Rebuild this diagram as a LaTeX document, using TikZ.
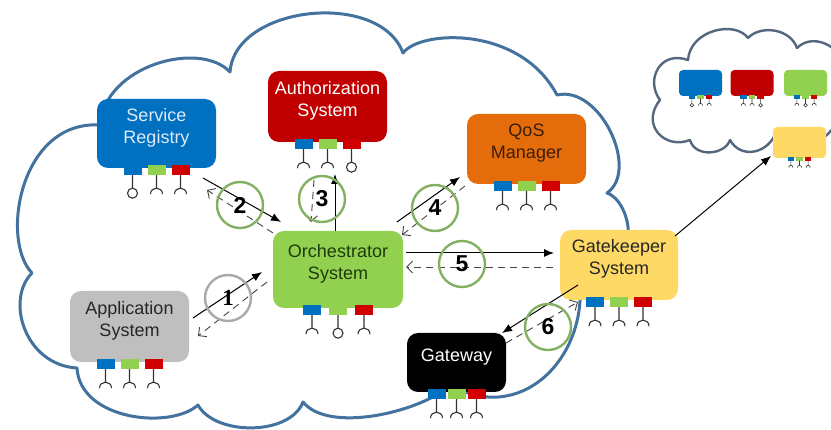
\documentclass[tikz,border=0pt]{standalone}
\usepackage{fontspec}
\setmainfont{Liberation Sans}
\newfontfamily\numserif{Liberation Serif}
\usetikzlibrary{arrows.meta}
\definecolor{cloudblue}{HTML}{44729E}
\definecolor{cloudgray}{HTML}{54677E}
\definecolor{srblue}{HTML}{0070C0}
\definecolor{authred}{HTML}{C00000}
\definecolor{qosorange}{HTML}{E46C0A}
\definecolor{orchgreen}{HTML}{92D050}
\definecolor{appgray}{HTML}{BFBFBF}
\definecolor{gkyellow}{HTML}{FFD966}
\definecolor{pblue}{HTML}{0070C0}
\definecolor{pgreen}{HTML}{92D050}
\definecolor{pred}{HTML}{D00000}
\definecolor{ringgreen}{HTML}{84B062}
\definecolor{ringgray}{HTML}{A9A9A9}
\definecolor{stemgray}{HTML}{333333}
\definecolor{srtext}{HTML}{DDEBF7}
\definecolor{qostext}{HTML}{3B1E08}
\definecolor{orchtext}{HTML}{1E3B0C}
\definecolor{darktext}{HTML}{262626}
\definecolor{dashgray}{HTML}{444444}

\tikzset{
  sysbox/.style={rounded corners=11pt, inner sep=0pt, draw=none},
  minibox/.style={rounded corners=4pt, inner sep=0pt, draw=none},
  boxtext/.style={align=center, inner sep=0pt, font=\fontsize{18}{22}\selectfont},
  portstem/.style={draw=stemgray, line width=1.1pt},
  cloudline/.style={draw=cloudblue, line width=3pt, line join=round},
  smallcloud/.style={draw=cloudgray, line width=2.4pt, line join=round},
  ring/.style={circle, draw=ringgreen, line width=2.4pt, minimum size=46pt, inner sep=0pt,
    font=\bfseries\fontsize{23}{23}\selectfont},
  flow/.style={draw=black, line width=1pt, -{Latex[length=10pt,width=8pt]}},
  reply/.style={draw=dashgray, line width=0.9pt, dash pattern=on 7pt off 5pt,
    -{Straight Barb[length=6pt,width=12pt]}},
}

% interface symbols below a port (x position given)
\newcommand\plugsym[1]{\draw[portstem] (#1,7) -- (#1,20) (#1,25) circle[radius=5];}
\newcommand\socksym[1]{\draw[portstem] (#1,7) -- (#1,20)
  (#1-6,26) .. controls (#1-6,18) and (#1+6,18) .. (#1+6,26);}

% ports row under a box: [scope options]{node}{spacing}{type1}{type2}{type3}
\newcommand\ports[6][]{%
  \begin{scope}[shift={(#2.south)},#1]
    \fill[pblue]  (-#3-9,-3) rectangle (-#3+9,7);
    \fill[pgreen] (-9,-3) rectangle (9,7);
    \fill[pred]   (#3-9,-3) rectangle (#3+9,7);
    \csname #4sym\endcsname{-#3}
    \csname #5sym\endcsname{0}
    \csname #6sym\endcsname{#3}
  \end{scope}}

\begin{document}
\begin{tikzpicture}[x=1pt,y=-1pt]
\useasboundingbox (0,0) rectangle (831,430);
\clip (0,0) rectangle (831,430);
\fill[white] (0,0) rectangle (831,430);

% big cloud
\draw[cloudline] (32,273)
  .. controls (0,240) and (20,120) .. (100,125)
  .. controls (105,65) and (200,40) .. (230,72)
  .. controls (235,5) and (380,-10) .. (403,53)
  .. controls (420,30) and (520,25) .. (557,95)
  .. controls (600,85) and (640,170) .. (607,193)
  .. controls (630,200) and (650,270) .. (580,285)
  .. controls (585,360) and (520,425) .. (450,385)
  .. controls (425,410) and (330,435) .. (303,402)
  .. controls (290,436) and (215,436) .. (198,405)
  .. controls (170,430) and (80,420) .. (77,368)
  .. controls (25,365) and (5,300) .. (32,273) -- cycle;

% remote cloud
\draw[smallcloud] (660,100)
  .. controls (645,80) and (660,50) .. (688,60)
  .. controls (690,30) and (735,20) .. (748,38)
  .. controls (760,25) and (790,28) .. (797,48)
  .. controls (815,30) and (850,50) .. (845,80)
  .. controls (870,100) and (860,125) .. (835,125)
  .. controls (820,150) and (790,150) .. (775,135)
  .. controls (765,155) and (740,158) .. (730,140)
  .. controls (725,155) and (695,158) .. (690,140)
  .. controls (665,150) and (640,125) .. (660,100) -- cycle;

% systems
\node[sysbox, fill=srblue, minimum width=119pt, minimum height=69pt] (sr) at (156.5,133.5) {};
\node[boxtext, text=srtext] (srt) at ([yshift=6pt]sr.center) {Service\\Registry};
\ports{sr}{24}{plug}{sock}{sock}

\node[sysbox, fill=authred, minimum width=119pt, minimum height=71pt] (auth) at (327.5,106.5) {};
\node[boxtext, text=white] (autht) at ([yshift=6pt]auth.center) {Authorization\\System};
\ports{auth}{24}{sock}{sock}{plug}

\node[sysbox, fill=qosorange, minimum width=119pt, minimum height=70pt] (qos) at (526.5,149) {};
\node[boxtext, text=qostext] (qost) at ([yshift=6pt]qos.center) {QoS\\Manager};
\ports{qos}{24}{sock}{sock}{sock}

\node[sysbox, fill=orchgreen, minimum width=130pt, minimum height=77pt] (orch) at (338,269.5) {};
\node[boxtext, text=orchtext] (orcht) at ([yshift=6pt]orch.center) {Orchestrator\\System};
\ports{orch}{26}{sock}{plug}{sock}

\node[sysbox, fill=appgray, minimum width=119pt, minimum height=71pt] (app) at (129.5,326.5) {};
\node[boxtext, text=darktext] (appt) at ([yshift=6pt]app.center) {Application\\System};
\ports{app}{24}{sock}{sock}{sock}

\node[sysbox, fill=gkyellow, minimum width=118pt, minimum height=70pt] (gk) at (619,265) {};
\node[boxtext, text=darktext] (gkt) at ([yshift=6pt]gk.center) {Gatekeeper\\System};
\ports{gk}{24}{sock}{sock}{sock}

\node[sysbox, fill=black, minimum width=99pt, minimum height=59pt] (gw) at (456.5,362.5) {};
\node[boxtext, text=white] (gwt) at ([yshift=5pt]gw.center) {Gateway};
\ports{gw}{20}{sock}{sock}{sock}

% remote cloud systems
\node[minibox, fill=srblue, minimum width=43pt, minimum height=26pt] (rsr) at (700.5,83) {};
\ports[scale=0.36, portstem/.append style={line width=0.6pt}]{rsr}{24}{plug}{sock}{sock}
\node[minibox, fill=authred, minimum width=43pt, minimum height=26pt] (rauth) at (752,83) {};
\ports[scale=0.36, portstem/.append style={line width=0.6pt}]{rauth}{24}{sock}{sock}{plug}
\node[minibox, fill=orchgreen, minimum width=43pt, minimum height=26pt] (rorch) at (805.5,83) {};
\ports[scale=0.36, portstem/.append style={line width=0.6pt}]{rorch}{24}{sock}{plug}{sock}
\node[minibox, fill=gkyellow, minimum width=53pt, minimum height=31pt] (rgk) at (799.5,142.5) {};
\ports[scale=0.36, portstem/.append style={line width=0.6pt}]{rgk}{24}{sock}{sock}{sock}

% connector end points
\coordinate (a1s) at (193,318);  \coordinate (a1e) at (262,272);
\coordinate (r1s) at (267,282);  \coordinate (r1e) at (198,336);
\coordinate (a2s) at (203,178);  \coordinate (a2e) at (281,222);
\coordinate (r2s) at (273,233);  \coordinate (r2e) at (207,190);
\coordinate (a3e) at (335,174);
\coordinate (r3s) at (314,180);  \coordinate (r3e) at (311,222);
\coordinate (a4s) at (397,222);  \coordinate (a4e) at (460,177);
\coordinate (r4s) at (465,186);  \coordinate (r4e) at (402,235);
\coordinate (a5s) at (406,253);  \coordinate (a5e) at (554,253);
\coordinate (r5s) at (553,267);  \coordinate (r5e) at (406,267);
\coordinate (a6s) at (578,285);  \coordinate (a6e) at (502,333);
\coordinate (r6s) at (506,343);  \coordinate (r6e) at (578,302);
\coordinate (ags) at (675,236);  \coordinate (age) at (771,156);

% connectors
\draw[flow]  (a1s) -- (a1e);
\draw[reply] (r1s) -- (r1e);
\draw[flow]  (a2s) -- (a2e);
\draw[reply] (r2s) -- (r2e);
\draw[flow]  (orch.north -| a3e) -- (a3e);
\draw[reply] (r3s) -- (r3e);
\draw[flow]  (a4s) -- (a4e);
\draw[reply] (r4s) -- (r4e);
\draw[flow]  (a5s) -- (a5e);
\draw[reply] (r5s) -- (r5e);
\draw[flow]  (a6s) -- (a6e);
\draw[reply] (r6s) -- (r6e);
\draw[flow]  (ags) -- (age);

% step numbers
\node[ring, draw=ringgray, font=\numserif\bfseries\fontsize{23}{23}\selectfont] (c1) at (228,298) {1};
\node[ring] (c2) at (240,205) {2};
\node[ring] (c3) at (322,199) {3};
\node[ring] (c4) at (435,208) {4};
\node[ring] (c5) at (462,264) {5};
\node[ring] (c6) at (548,327) {6};
\end{tikzpicture}
\end{document}
